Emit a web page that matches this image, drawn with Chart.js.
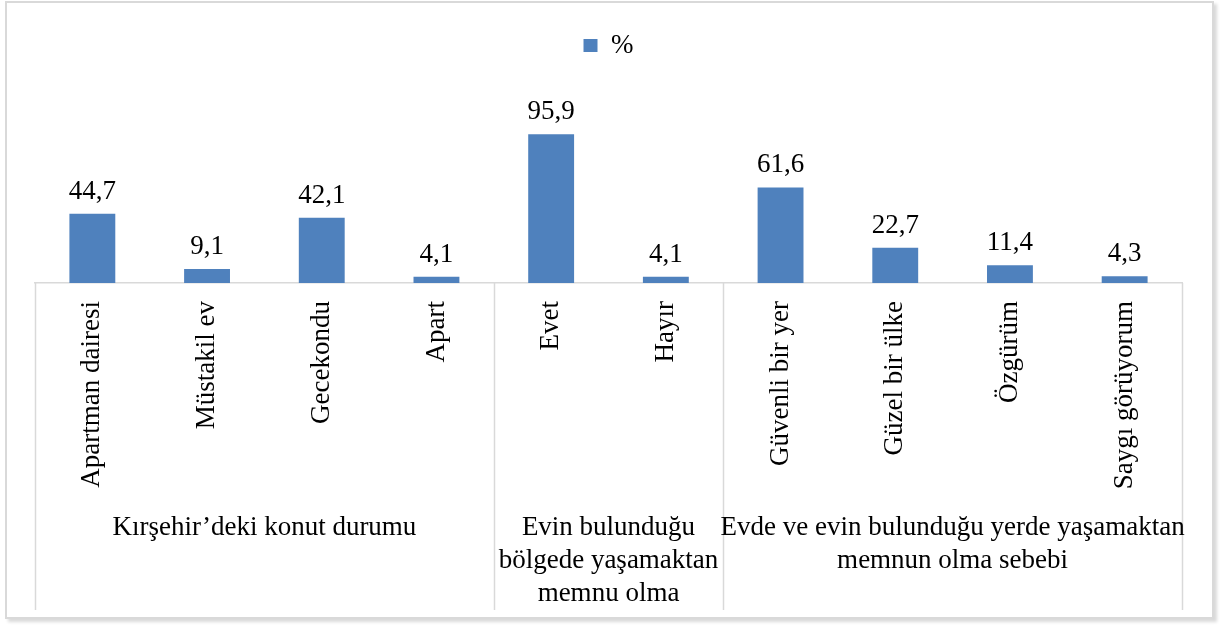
<!DOCTYPE html>
<html><head><meta charset="utf-8">
<script src="https://cdn.jsdelivr.net/npm/chart.js@4/dist/chart.umd.min.js"></script>
<style>
html,body{margin:0;padding:0;background:#fff;}
#wrap{position:relative;width:1222px;height:628px;}
#frame{position:absolute;left:5px;top:1px;width:1205px;height:614px;border:2px solid #d9d9d9;box-shadow:3px 3px 3px rgba(0,0,0,0.15);pointer-events:none;}
canvas{position:absolute;left:0;top:0;}
</style></head><body>
<div id="wrap"><canvas id="c" width="1222" height="628"></canvas><div id="frame"></div></div>
<script>
const categories = ["Apartman dairesi","Müstakil ev","Gecekondu","Apart","Evet","Hayır","Güvenli bir yer","Güzel bir ülke","Özgürüm","Saygı görüyorum"];
const percentValues = [44.7, 9.1, 42.1, 4.1, 95.9, 4.1, 61.6, 22.7, 11.4, 4.3];
const groupNames = [
  ["Kırşehir’deki konut durumu"],
  ["Evin bulunduğu", "bölgede yaşamaktan", "memnu olma"],
  ["Evde ve evin bulunduğu yerde yaşamaktan", "memnun olma sebebi"]
];
const groupSizes = [4, 2, 4];
const seriesName = "%";

const FONT = "'Liberation Serif', 'Times New Roman', serif";
const LINE = '#d9d9d9';

const groupPlugin = {
  id: 'groups',
  afterDatasetsDraw(chart) {
    const ctx = chart.ctx;
    const meta = chart.getDatasetMeta(0);
    ctx.save();
    ctx.font = '27px ' + FONT;
    ctx.fillStyle = '#000';
    ctx.textAlign = 'center';
    ctx.textBaseline = 'alphabetic';
    meta.data.forEach((bar, i) => {
      const txt = percentValues[i].toFixed(1).replace('.', ',');
      ctx.fillText(txt, bar.x, bar.y - 15);
    });
    ctx.restore();
  },
  afterDraw(chart) {
    const ctx = chart.ctx;
    const xs = chart.scales.x;
    const area = chart.chartArea;
    const step = xs.getPixelForValue(1) - xs.getPixelForValue(0);
    const bottom = 610;
    ctx.save();
    ctx.strokeStyle = LINE;
    ctx.lineWidth = 1.5;
    let idx = 0;
    const bounds = [xs.getPixelForValue(0) - step / 2];
    groupSizes.forEach(n => { idx += n; bounds.push(xs.getPixelForValue(idx - 1) + step / 2); });
    bounds.forEach(x => {
      ctx.beginPath();
      ctx.moveTo(Math.round(x) + 0.5, area.bottom);
      ctx.lineTo(Math.round(x) + 0.5, bottom);
      ctx.stroke();
    });
    ctx.font = '27px ' + FONT;
    ctx.fillStyle = '#000';
    ctx.textAlign = 'center';
    ctx.textBaseline = 'middle';
    groupNames.forEach((lines, g) => {
      const cx = (bounds[g] + bounds[g + 1]) / 2;
      lines.forEach((t, k) => ctx.fillText(t, cx, 528 + k * 33));
    });
    ctx.restore();
  }
};

new Chart(document.getElementById('c'), {
  type: 'bar',
  data: {
    labels: categories,
    datasets: [{
      label: seriesName,
      data: percentValues,
      backgroundColor: '#4F81BD',
      borderWidth: 0,
      categoryPercentage: 0.5,
      barPercentage: 0.8
    }]
  },
  options: {
    responsive: false,
    animation: false,
    layout: { padding: { left: 35, right: 40, top: 22, bottom: 0 } },
    plugins: {
      legend: {
        position: 'top',
        labels: { font: { family: FONT, size: 27 }, color: '#000', boxWidth: 14, boxHeight: 13, padding: 10 }
      },
      tooltip: { enabled: false }
    },
    scales: {
      x: {
        grid: { display: false },
        border: { display: true, color: LINE, width: 1.5 },
        ticks: { minRotation: 90, maxRotation: 90, autoSkip: false, padding: 10, color: '#000', font: { family: FONT, size: 27 } },
        afterFit(s) { s.height = 345; }
      },
      y: { display: false, min: 0, max: 138 }
    }
  },
  plugins: [groupPlugin]
});
</script>
</body></html>
